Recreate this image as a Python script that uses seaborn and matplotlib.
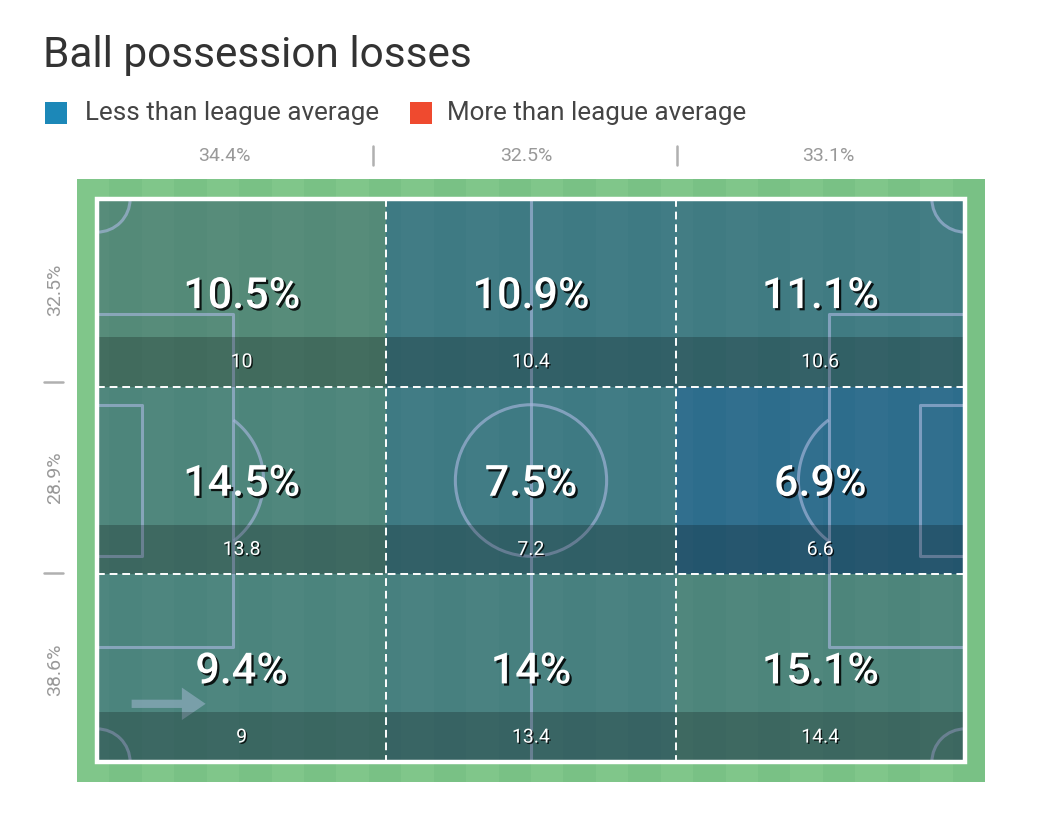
import numpy as np
import pandas as pd
import matplotlib
matplotlib.use("Agg")
import matplotlib.pyplot as plt
import matplotlib.patheffects as pe
from matplotlib.patches import Rectangle, Ellipse
from matplotlib.colors import LinearSegmentedColormap
from matplotlib.lines import Line2D
import seaborn as sns

# ---------------- data ----------------
title = "Ball possession losses"
legend_labels = ["Less than league average", "More than league average"]
col_share = ["34.4%", "32.5%", "33.1%"]
row_share = ["32.5%", "28.9%", "38.6%"]
zone_pct = [[10.5, 10.9, 11.1],
            [14.5, 7.5, 6.9],
            [9.4, 14.0, 15.1]]
zone_count = [["10", "10.4", "10.6"],
              ["13.8", "7.2", "6.6"],
              ["9", "13.4", "14.4"]]
# how far below the league average each zone is (0 = at average, 1 = far below)
below_avg = [[0.05, 0.55, 0.50],
             [0.20, 0.55, 0.95],
             [0.25, 0.35, 0.20]]

sns.set_style("white")
plt.rcParams["font.family"] = ["Roboto", "DejaVu Sans"]

W, H = 1061, 833
fig = plt.figure(figsize=(W / 100, H / 100), dpi=100)
fig.patch.set_facecolor("white")

# axes covering the green pitch surround
ax = fig.add_axes([77 / W, 1 - 782 / H, 908 / W, 603 / H])

cmap = LinearSegmentedColormap.from_list("less", ["#568c77", "#2b6b8d"])
df = pd.DataFrame(below_avg)
sns.heatmap(df, ax=ax, cmap=cmap, vmin=0, vmax=1, cbar=False,
            xticklabels=False, yticklabels=False, linewidths=0)
ax.collections[0].set_zorder(1)

padx = 20 / 289
pady = 20 / 187.7
ax.set_xlim(-padx, 3 + padx)
ax.set_ylim(3 + pady, -pady)
ax.axis("off")

# grass stripes
n_str = 28
edges = np.linspace(-padx, 3 + padx, n_str + 1)
for i in range(n_str):
    ax.axvspan(edges[i], edges[i + 1], color="#80c68a" if i % 2 == 0 else "#79c185",
               zorder=0, lw=0)
    if i % 2 == 0:
        ax.add_patch(Rectangle((max(edges[i], 0), 0), min(edges[i + 1], 3) - max(edges[i], 0), 3,
                               color="white", alpha=0.018, lw=0, zorder=1.2))

clip = Rectangle((0, 0), 3, 3, transform=ax.transData, visible=False)
ax.add_patch(clip)

# pitch markings (meters -> units)
sx, sy = 3 / 105, 3 / 68
lc = "#a6b6dc"
la = 0.65
lw = 2.2
def mline(xs, ys):
    ax.plot(np.array(xs) * sx, np.array(ys) * sy, color=lc, alpha=la, lw=lw, zorder=2,
            solid_capstyle="butt")

mline([52.5, 52.5], [0, 68])
ax.add_patch(Ellipse((52.5 * sx, 34 * sy), 2 * 9.15 * sx, 2 * 9.15 * sy, fill=False,
                     ec=lc, alpha=la, lw=lw, zorder=2))
for side in (0, 1):
    if side == 0:
        x0, d = 0, 1
    else:
        x0, d = 105, -1
    mline([x0, x0 + d * 16.5, x0 + d * 16.5, x0], [34 - 20.15, 34 - 20.15, 34 + 20.15, 34 + 20.15])
    mline([x0, x0 + d * 5.5, x0 + d * 5.5, x0], [34 - 9.15, 34 - 9.15, 34 + 9.15, 34 + 9.15])
    ang = np.degrees(np.arccos(5.5 / 9.15))
    th = np.radians(np.linspace(-ang, ang, 50))
    px = x0 + d * (11 + 9.15 * np.cos(th))
    py = 34 + 9.15 * np.sin(th)
    mline(px, py)
r = 4.0
for (cx, cy) in [(0, 0), (105, 0), (0, 68), (105, 68)]:
    e = Ellipse((cx * sx, cy * sy), 2 * r * sx, 2 * r * sy, fill=False,
                ec=lc, alpha=la, lw=lw, zorder=2)
    ax.add_patch(e)
    e.set_clip_path(clip)
# direction arrow
ax.annotate("", xy=(0.385, 2.69), xytext=(0.11, 2.69),
            arrowprops=dict(arrowstyle="simple,head_length=0.95,head_width=1.3,tail_width=0.33",
                            color="#a0b6cf", alpha=0.55, lw=0, mutation_scale=18),
            zorder=2)

# dark bands at bottom of each zone
for i in range(3):
    for j in range(3):
        ax.add_patch(Rectangle((j, i + 0.735), 1, 0.265, color="black", alpha=0.22,
                               lw=0, zorder=3))

# outer white line
ax.add_patch(Rectangle((0, 0), 3, 3, fill=False, ec="white", lw=3.2, zorder=5))
# dashed zone grid
for k in (1, 2):
    ax.plot([k, k], [0, 3.02], color="white", lw=1.4, ls=(0, (4, 2.5)), zorder=4)
    ax.plot([0, 3], [k, k], color="white", lw=1.4, ls=(0, (4, 2.5)), zorder=4)

shadow = [pe.SimplePatchShadow(offset=(1.6, -1.6), shadow_rgbFace="black", alpha=0.85), pe.Normal()]
for i in range(3):
    for j in range(3):
        v = zone_pct[i][j]
        s = f"{v:g}%"
        ax.text(j + 0.5, i + 0.52, s, ha="center", va="center", color="white",
                fontsize=31, fontweight="medium", zorder=6, path_effects=shadow)
        ax.text(j + 0.5, i + 0.87, zone_count[i][j], ha="center", va="center", color="white",
                fontsize=14, zorder=6,
                path_effects=[pe.SimplePatchShadow(offset=(1, -1), shadow_rgbFace="black", alpha=0.8), pe.Normal()])

# title and legend
fig.text(43 / W, 1 - 56 / H, title, fontsize=30.5, color="#333333", ha="left", va="center",
         fontweight="normal")
fig.add_artist(Rectangle((45 / W, 1 - 124 / H), 22 / W, 22 / H, transform=fig.transFigure,
                         color="#1c88b8", lw=0))
fig.text(85 / W, 1 - 113 / H, legend_labels[0], fontsize=18.7, color="#444444",
         ha="left", va="center", fontweight="normal")
fig.add_artist(Rectangle((410 / W, 1 - 124 / H), 22 / W, 22 / H, transform=fig.transFigure,
                         color="#ef4a2f", lw=0))
fig.text(447 / W, 1 - 113 / H, legend_labels[1], fontsize=18.7, color="#444444",
         ha="left", va="center", fontweight="normal")

# column shares
for xc, s in zip([224, 526, 828], col_share):
    fig.text(xc / W, 1 - 156 / H, s, fontsize=14, color="#999999", ha="center", va="center",
             fontweight="normal")
for xs in (373, 677):
    fig.add_artist(Line2D([xs / W, xs / W], [1 - 146 / H, 1 - 165 / H], transform=fig.transFigure,
                          color="#b0b0b0", lw=1.8))
# row shares
for yc, s in zip([290, 478, 670], row_share):
    fig.text(55 / W, 1 - yc / H, s, fontsize=14, color="#999999", ha="center", va="center",
             rotation=90, fontweight="normal")
for ys in (382, 573):
    fig.add_artist(Line2D([44 / W, 63 / W], [1 - ys / H, 1 - ys / H], transform=fig.transFigure,
                          color="#b0b0b0", lw=1.8))

fig.savefig("out.png", dpi=100, facecolor="white")
